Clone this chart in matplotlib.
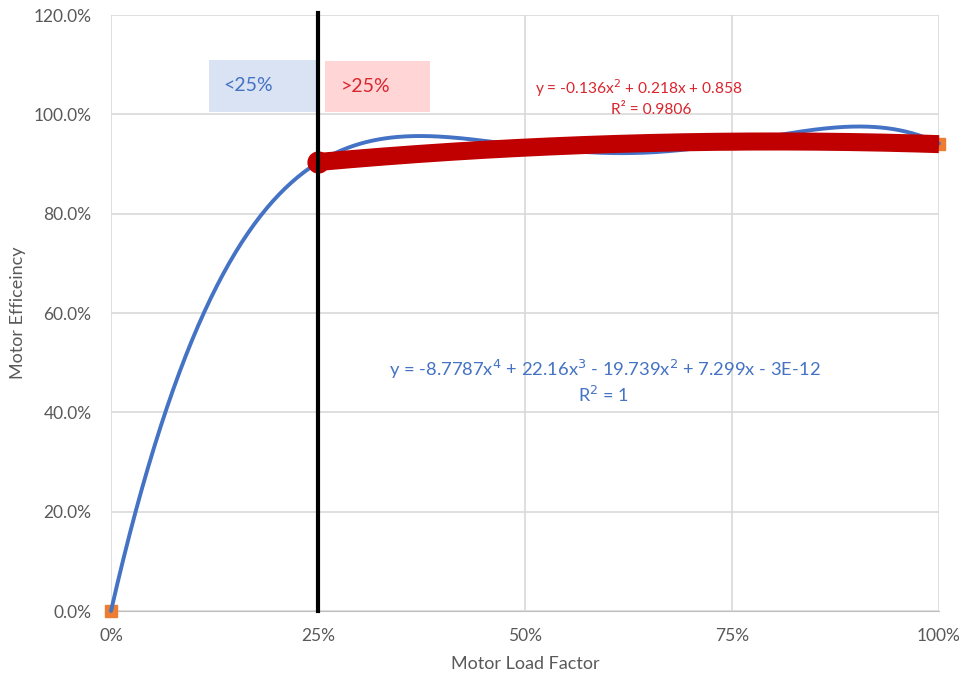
import numpy as np
import matplotlib
matplotlib.use("Agg")
import matplotlib.pyplot as plt
from matplotlib.ticker import PercentFormatter, FixedLocator

plt.rcParams['font.family'] = ['Lato', 'DejaVu Sans']

# Measured motor efficiency at each load factor
load_factor = [0.0, 0.25, 0.50, 0.75, 1.00]
efficiency = [0.0, 0.903, 0.936, 0.942, 0.941]

# Trendline coefficients (highest power first)
poly4_coef = [-8.7787, 22.16, -19.739, 7.299, -3e-12]   # all points
poly2_coef = [-0.136, 0.218, 0.858]                     # load >= 25%

x_ticks = [0.0, 0.25, 0.50, 0.75, 1.00]
y_ticks = [0.0, 0.2, 0.4, 0.6, 0.8, 1.0, 1.2]

fig = plt.figure(figsize=(9.59, 6.79), dpi=100)
ax = fig.add_axes([111/959, 68/679, 828/959, 596/679])

blue = '#4472C4'
red = '#C00000'
red_text = '#D9252E'
orange = '#ED7D31'
grid = '#D9D9D9'
tick_col = '#595959'

# data points
ax.plot(load_factor, efficiency, linestyle='none', marker='s', markersize=9,
        color=orange, zorder=3, clip_on=False)

# 4th-order trendline over full range
xs = np.linspace(0, 1, 400)
ax.plot(xs, np.polyval(poly4_coef, xs), color=blue, lw=2.8, zorder=4,
        clip_on=False, solid_capstyle='round')

# 2nd-order trendline above 25% load
xr = np.linspace(load_factor[1], load_factor[-1], 300)
ax.plot(xr, np.polyval(poly2_coef, xr), color=red, lw=13, zorder=5,
        solid_capstyle='butt', clip_on=False)
ax.plot([load_factor[1]], [np.polyval(poly2_coef, load_factor[1])], 'o',
        color=red, markersize=15, zorder=5, clip_on=False)

# 25% threshold line
ax.plot([0.25, 0.25], [0, 1.205], color='black', lw=3, zorder=6, clip_on=False)

# region labels
ax.add_patch(plt.Rectangle((0.1184, 1.0047), 0.1304, 0.1047,
                           facecolor='#DAE3F3', edgecolor='none', zorder=2))
ax.text(0.136, 1.0575, '<25%', color=blue, fontsize=14, va='center', ha='left', zorder=7)
ax.add_patch(plt.Rectangle((0.2585, 1.0047), 0.1268, 0.1027,
                           facecolor='#FFD5D5', edgecolor='none', zorder=2))
ax.text(0.277, 1.0555, '>25%', color=red_text, fontsize=14, va='center', ha='left', zorder=7)

# trendline equations
ax.text(0.638, 1.0535, 'y = -0.136x$^{2}$ + 0.218x + 0.858', color=red_text,
        fontsize=11.2, ha='center', va='center', zorder=7)
ax.text(0.652, 1.0085, 'R² = 0.9806', color=red_text, fontsize=11.2,
        ha='center', va='center', zorder=7)
ax.text(0.596, 0.4855, 'y = -8.7787x$^{4}$ + 22.16x$^{3}$ - 19.739x$^{2}$ + 7.299x - 3E-12',
        color=blue, fontsize=13.2, ha='center', va='center', zorder=7)
ax.text(0.595, 0.4355, 'R$^{2}$ = 1', color=blue, fontsize=13,
        ha='center', va='center', zorder=7)

ax.set_xlim(0, 1)
ax.set_ylim(0, 1.2)
ax.xaxis.set_major_locator(FixedLocator(x_ticks))
ax.yaxis.set_major_locator(FixedLocator(y_ticks))
ax.xaxis.set_major_formatter(PercentFormatter(1.0, decimals=0))
ax.yaxis.set_major_formatter(PercentFormatter(1.0, decimals=1))
ax.grid(True, color=grid, lw=1.2, zorder=0)
ax.set_axisbelow(True)
for s in ax.spines.values():
    s.set_visible(False)
ax.spines['bottom'].set_visible(True)
ax.spines['bottom'].set_color('#BFBFBF')
ax.tick_params(length=0, colors=tick_col, labelsize=12.5)
ax.tick_params(axis='x', pad=12)
ax.tick_params(axis='y', pad=14)

ax.set_xlabel('Motor Load Factor', color=tick_col, fontsize=13, labelpad=9)
ax.set_ylabel('Motor Efficeincy', color=tick_col, fontsize=13)
ax.yaxis.label.set_va('center')
ax.yaxis.set_label_coords(-0.112, 0.5)

fig.savefig('out.png', dpi=100)
